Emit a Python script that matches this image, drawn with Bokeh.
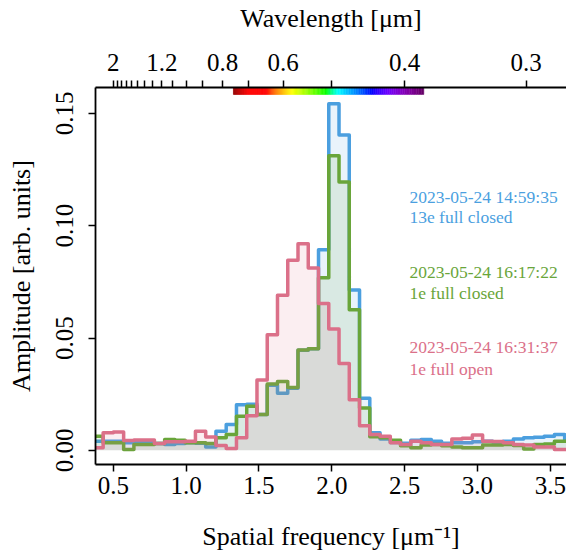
import numpy as np
from bokeh.plotting import figure
from bokeh.models import (LinearAxis, FixedTicker, CustomJSTickFormatter,
                          PrintfTickFormatter, Range1d, ColumnDataSource)
from bokeh.core.properties import value
from bokeh.embed import file_html
from bokeh.resources import INLINE

# ---------------- data ----------------
freq_start = 0.360      # first bin edge [um^-1]
bin_width = 0.0704      # bin width [um^-1]

amp_1459 = [0.0040, 0.0041, 0.0041, 0.0034, 0.0036, 0.0036, 0.0030, 0.0026, 0.0030, 0.0034,
            0.0032, 0.0015, 0.0085, 0.0115, 0.0203, 0.0205, 0.0160, 0.0290, 0.0254, 0.0276,
            0.0445, 0.0452, 0.0893, 0.1543, 0.1404, 0.0714, 0.0232, 0.0078, 0.0050, 0.0035,
            0.0032, 0.0045, 0.0048, 0.0040, 0.0032, 0.0034, 0.0034, 0.0038, 0.0041, 0.0036,
            0.0041, 0.0050, 0.0056, 0.0058, 0.0063, 0.0070, 0.0045]
amp_1617 = [0.0063, 0.0034, 0.0034, 0.0004, 0.0026, 0.0026, 0.0030, 0.0048, 0.0045, 0.0034,
            0.0034, 0.0030, 0.0056, 0.0070, 0.0152, 0.0196, 0.0159, 0.0295, 0.0306, 0.0280,
            0.0447, 0.0452, 0.0768, 0.1311, 0.1194, 0.0626, 0.0188, 0.0060, 0.0056, 0.0045,
            0.0020, 0.0012, 0.0024, 0.0026, 0.0020, 0.0015, 0.0012, 0.0012, 0.0024, 0.0024,
            0.0026, 0.0022, 0.0006, 0.0026, 0.0028, 0.0040, 0.0041]
amp_1631 = [0.0012, 0.0078, 0.0082, 0.0044, 0.0046, 0.0046, 0.0030, 0.0038, 0.0038, 0.0040,
            0.0085, 0.0059, 0.0022, 0.0008, 0.0056, 0.0154, 0.0313, 0.0515, 0.0690, 0.0846,
            0.0919, 0.0812, 0.0654, 0.0540, 0.0386, 0.0225, 0.0110, 0.0070, 0.0063, 0.0034,
            0.0026, 0.0041, 0.0034, 0.0026, 0.0026, 0.0050, 0.0054, 0.0068, 0.0041, 0.0039,
            0.0034, 0.0026, 0.0024, 0.0015, 0.0015, 0.0004, 0.0004]

series_colors = ["#4B9FDF", "#69A53A", "#DB7089"]
series_labels = [("2023-05-24 14:59:35", "13e full closed"),
                 ("2023-05-24 16:17:22", "1e full closed"),
                 ("2023-05-24 16:31:37", "1e full open")]
label_x = 2.533
label_y1 = [0.1128, 0.0793, 0.0460]
label_y2 = [0.1040, 0.0702, 0.0364]

x_ticks = [0.5, 1.0, 1.5, 2.0, 2.5, 3.0, 3.5]
y_ticks = [0.00, 0.05, 0.10, 0.15]
wl_labeled = [2.0, 1.2, 0.8, 0.6, 0.4, 0.3]
wl_minor = [1.9, 1.8, 1.7, 1.6, 1.5, 1.4, 1.3, 1.1, 1.0, 0.9, 0.7, 0.5]
spectrum_range = (0.38, 0.755)   # um

# ---------------- figure ----------------
FONT = "Liberation Serif"
p = figure(width=566, height=553, x_range=Range1d(0.378, 3.611),
           y_range=Range1d(-0.0063, 0.1615), output_backend="svg",
           toolbar_location=None, min_border_left=95, min_border_top=86,
           min_border_right=0, min_border_bottom=86)
p.xgrid.visible = False
p.ygrid.visible = False
p.outline_line_color = None
p.background_fill_color = "white"
p.border_fill_color = "white"

n = len(amp_1459)
edges = freq_start + bin_width * np.arange(n + 1)

for amps, col in zip([amp_1459, amp_1617, amp_1631], series_colors):
    yv = list(amps) + [amps[-1]]
    src = ColumnDataSource(dict(x=edges, y=yv, z=np.zeros(n + 1)))
    p.varea_step(x="x", y1="z", y2="y", source=src, step_mode="after",
                 fill_color=col, fill_alpha=0.12)
    p.step(x="x", y="y", source=src, mode="after", line_color=col,
           line_width=3.5, line_join="round")

# spectrum bar
def wl_to_rgb(w):
    w = w * 1000.0
    if w < 440:
        r, g, b = -(w - 440) / 60.0, 0.0, 1.0
    elif w < 490:
        r, g, b = 0.0, (w - 440) / 50.0, 1.0
    elif w < 510:
        r, g, b = 0.0, 1.0, -(w - 510) / 20.0
    elif w < 580:
        r, g, b = (w - 510) / 70.0, 1.0, 0.0
    elif w < 645:
        r, g, b = 1.0, -(w - 645) / 65.0, 0.0
    else:
        r, g, b = 1.0, 0.0, 0.0
    if w < 420:
        f = 0.3 + 0.7 * (w - 380) / 40.0
    elif w > 700:
        f = 0.3 + 0.7 * (780 - w) / 80.0
    else:
        f = 1.0
    c = [int(round(255 * (v * f) ** 0.8)) if v > 0 else 0 for v in (r, g, b)]
    return "#%02x%02x%02x" % tuple(c)

wl = np.linspace(spectrum_range[0], spectrum_range[1], 151)
lefts = 1.0 / wl[1:]
rights = 1.0 / wl[:-1]
cols = [wl_to_rgb(0.5 * (a + b)) for a, b in zip(wl[1:], wl[:-1])]
ytop = p.y_range.end
bar_h = 0.0031
p.quad(left=lefts, right=rights, top=[ytop] * len(lefts), bottom=[ytop - bar_h] * len(lefts),
       fill_color=cols, line_color=cols, line_width=0.5)

# legend texts
p.text(x=[label_x] * 3, y=label_y1, text=[s[0] for s in series_labels],
       text_color=series_colors, text_font=value(FONT), text_font_size="17.5px",
       text_baseline="middle", text_align="left")
p.text(x=[label_x] * 3, y=label_y2, text=[s[1] for s in series_labels],
       text_color=series_colors, text_font=value(FONT), text_font_size="17.5px",
       text_baseline="middle", text_align="left")

# axes
bottom = p.below[0]
left = p.left[0]
top = LinearAxis(ticker=FixedTicker(ticks=[1.0 / w for w in wl_labeled],
                                    minor_ticks=[1.0 / w for w in wl_minor]),
                 formatter=CustomJSTickFormatter(code="return String(Math.round(10/tick)/10);"),
                 axis_label="Wavelength [μm]")
p.add_layout(top, "above")

bottom.ticker = FixedTicker(ticks=x_ticks)
bottom.formatter = PrintfTickFormatter(format="%.1f")
bottom.axis_label = "Spatial frequency [μm⁻¹]"
left.ticker = FixedTicker(ticks=y_ticks)
left.formatter = PrintfTickFormatter(format="%.2f")
left.axis_label = "Amplitude [arb. units]"
left.major_label_orientation = "vertical"

for ax in [bottom, left, top]:
    ax.major_tick_out = 7
    ax.major_tick_in = 0
    ax.minor_tick_out = 0
    ax.minor_tick_in = 0
    ax.axis_line_width = 1.8
    ax.axis_line_color = "black"
    ax.major_tick_line_width = 1.5
    ax.major_tick_line_color = "black"
    ax.major_label_text_font = FONT
    ax.major_label_text_font_size = "25px"
    ax.major_label_text_color = "black"
    ax.axis_label_text_font = FONT
    ax.axis_label_text_font_size = "26px"
    ax.axis_label_text_font_style = "normal"
    ax.axis_label_text_color = "black"

top.minor_tick_out = 7
top.minor_tick_line_width = 1.5
top.minor_tick_line_color = "black"
top.major_label_standoff = 10
top.axis_label_standoff = 18
bottom.major_label_standoff = 5
bottom.axis_label_standoff = 25
left.major_label_standoff = 15
left.axis_label_standoff = 18

open("out.html", "w").write(file_html(p, INLINE))
